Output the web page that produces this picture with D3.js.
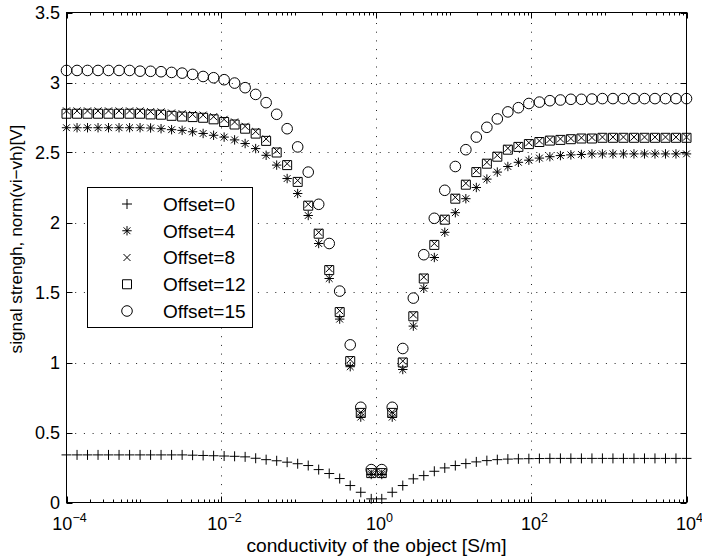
<!DOCTYPE html>
<html>
<head>
<meta charset="utf-8">
<script src="https://cdn.jsdelivr.net/npm/d3@7"></script>
<style>
  body { margin: 0; background: #fff; }
  text { font-family: "Liberation Sans", Arial, Helvetica, sans-serif; fill: #000; }
</style>
</head>
<body>
<svg id="canvas"></svg>
<script>
// exponent of the conductivity (60 samples, 10^-4 .. 10^4)
const logSigma = [
  -4.000, -3.864, -3.729, -3.593, -3.458, -3.322, -3.186, -3.051, -2.915, -2.780,
  -2.644, -2.508, -2.373, -2.237, -2.102, -1.966, -1.831, -1.695, -1.559, -1.424,
  -1.288, -1.153, -1.017, -0.881, -0.746, -0.610, -0.475, -0.339, -0.203, -0.068,
   0.068,  0.203,  0.339,  0.475,  0.610,  0.746,  0.881,  1.017,  1.153,  1.288,
   1.424,  1.559,  1.695,  1.831,  1.966,  2.102,  2.237,  2.373,  2.508,  2.644,
   2.780,  2.915,  3.051,  3.186,  3.322,  3.458,  3.593,  3.729,  3.864,  4.000
]

const offset0 = [
  0.340, 0.340, 0.340, 0.340, 0.340, 0.340, 0.340, 0.340, 0.340, 0.340,
  0.340, 0.340, 0.338, 0.336, 0.334, 0.332, 0.330, 0.326, 0.316, 0.306,
  0.298, 0.288, 0.277, 0.264, 0.235, 0.207, 0.171, 0.121, 0.073, 0.026,
  0.026, 0.073, 0.121, 0.169, 0.192, 0.223, 0.247, 0.264, 0.278, 0.290,
  0.299, 0.306, 0.310, 0.312, 0.313, 0.314, 0.315, 0.315, 0.315, 0.315,
  0.315, 0.315, 0.315, 0.315, 0.315, 0.315, 0.315, 0.315, 0.315, 0.315
]

const offset4 = [
  2.677, 2.677, 2.677, 2.677, 2.677, 2.677, 2.677, 2.677, 2.675, 2.670,
  2.663, 2.658, 2.648, 2.636, 2.623, 2.610, 2.590, 2.564, 2.528, 2.480,
  2.410, 2.314, 2.207, 2.050, 1.850, 1.600, 1.310, 0.970, 0.610, 0.200,
  0.200, 0.610, 0.950, 1.260, 1.530, 1.750, 1.930, 2.070, 2.170, 2.250,
  2.310, 2.360, 2.400, 2.430, 2.445, 2.460, 2.470, 2.478, 2.483, 2.486,
  2.490, 2.490, 2.490, 2.490, 2.490, 2.490, 2.490, 2.490, 2.490, 2.490
]

const offset8 = [
  2.797, 2.797, 2.797, 2.797, 2.797, 2.797, 2.797, 2.797, 2.792, 2.790,
  2.782, 2.777, 2.772, 2.767, 2.756, 2.737, 2.718, 2.687, 2.650, 2.597,
  2.513, 2.420, 2.300, 2.130, 1.930, 1.670, 1.370, 1.020, 0.645, 0.215,
  0.215, 0.645, 1.010, 1.340, 1.610, 1.850, 2.030, 2.180, 2.280, 2.370,
  2.430, 2.480, 2.530, 2.550, 2.570, 2.583, 2.592, 2.597, 2.600, 2.605,
  2.607, 2.610, 2.610, 2.610, 2.610, 2.610, 2.610, 2.610, 2.610, 2.610
]

const offset12 = [
  2.777, 2.777, 2.777, 2.777, 2.777, 2.777, 2.777, 2.777, 2.772, 2.770,
  2.762, 2.757, 2.753, 2.748, 2.737, 2.718, 2.700, 2.670, 2.635, 2.583,
  2.500, 2.410, 2.290, 2.120, 1.920, 1.660, 1.360, 1.010, 0.640, 0.210,
  0.210, 0.640, 1.000, 1.330, 1.600, 1.840, 2.020, 2.170, 2.270, 2.360,
  2.420, 2.470, 2.520, 2.540, 2.560, 2.575, 2.585, 2.590, 2.595, 2.600,
  2.600, 2.605, 2.605, 2.605, 2.605, 2.605, 2.605, 2.605, 2.605, 2.605
]

const offset15 = [
  3.086, 3.086, 3.086, 3.086, 3.086, 3.086, 3.086, 3.081, 3.080, 3.077,
  3.072, 3.067, 3.058, 3.043, 3.034, 3.020, 2.996, 2.963, 2.915, 2.856,
  2.773, 2.670, 2.540, 2.360, 2.130, 1.850, 1.510, 1.126, 0.680, 0.235,
  0.235, 0.680, 1.100, 1.460, 1.770, 2.030, 2.230, 2.400, 2.520, 2.610,
  2.680, 2.740, 2.790, 2.820, 2.850, 2.860, 2.870, 2.875, 2.880, 2.880,
  2.882, 2.885, 2.885, 2.885, 2.885, 2.885, 2.885, 2.885, 2.885, 2.885
]

const seriesNames = ['Offset=0', 'Offset=4', 'Offset=8', 'Offset=12', 'Offset=15']
const seriesValues = [offset0, offset4, offset8, offset12, offset15]
const markerTypes = ['plus', 'star', 'cross', 'square', 'circle']

const xTickExp = [-4, -2, 0, 2, 4]
const yTicks = [0, 0.5, 1, 1.5, 2, 2.5, 3, 3.5]

let width = 702,
height = 560

let pLeft = 66.5, pRight = 686.5, pTop = 12.5, pBottom = 502.5

let canvas = d3.select('#canvas')
.attr('width', width)
.attr('height', height)

let x = d3.scaleLog().domain([1e-4, 1e4]).range([pLeft, pRight])
let y = d3.scaleLinear().domain([0, 3.5]).range([pBottom, pTop])

// marker outlines, drawn with strokes like matlab does
let markerPath = (type) => {
    if (type === 'plus') return 'M-5,0H5M0,-5V5'
    if (type === 'cross') return 'M-3.5,-3.5L3.5,3.5M-3.5,3.5L3.5,-3.5'
    if (type === 'star') return 'M-4.7,0H4.7M0,-4.7V4.7M-3.4,-3.4L3.4,3.4M-3.4,3.4L3.4,-3.4'
    if (type === 'square') return 'M-4.5,-4.5H4.5V4.5H-4.5Z'
    return d3.symbol().type(d3.symbolCircle).size(Math.PI * 5.3 * 5.3)()
}

// grid
let grid = canvas.append('g')
.attr('stroke', '#222')
.attr('stroke-width', 1)
.attr('stroke-dasharray', '1,7.7')

grid.selectAll('.gx')
.data(xTickExp.slice(1, -1))
.enter().append('line')
.attr('x1', d => Math.round(x(Math.pow(10, d))) + 0.5)
.attr('x2', d => Math.round(x(Math.pow(10, d))) + 0.5)
.attr('y1', pBottom)
.attr('y2', pTop)

grid.selectAll('.gy')
.data(yTicks.slice(1, -1))
.enter().append('line')
.attr('y1', d => Math.round(y(d)) + 0.5)
.attr('y2', d => Math.round(y(d)) + 0.5)
.attr('x1', pLeft)
.attr('x2', pRight)

// box
canvas.append('rect')
.attr('x', pLeft).attr('y', pTop)
.attr('width', pRight - pLeft).attr('height', pBottom - pTop)
.attr('fill', 'none').attr('stroke', '#000')

// ticks on all four sides
let ticks = canvas.append('g').attr('stroke', '#000')
xTickExp.forEach(e => {
    let px = Math.round(x(Math.pow(10, e))) + 0.5
    ticks.append('line').attr('x1', px).attr('x2', px).attr('y1', pBottom).attr('y2', pBottom - 6)
    ticks.append('line').attr('x1', px).attr('x2', px).attr('y1', pTop).attr('y2', pTop + 6)
})
for (let e = -4; e < 4; e++) {
    for (let m = 2; m < 10; m++) {
        let px = Math.round(x(m * Math.pow(10, e))) + 0.5
        ticks.append('line').attr('x1', px).attr('x2', px).attr('y1', pBottom).attr('y2', pBottom - 3)
        ticks.append('line').attr('x1', px).attr('x2', px).attr('y1', pTop).attr('y2', pTop + 3)
    }
}
yTicks.forEach(v => {
    let py = Math.round(y(v)) + 0.5
    ticks.append('line').attr('x1', pLeft).attr('x2', pLeft + 6).attr('y1', py).attr('y2', py)
    ticks.append('line').attr('x1', pRight).attr('x2', pRight - 6).attr('y1', py).attr('y2', py)
})

// tick labels
canvas.selectAll('.ylab')
.data(yTicks)
.enter().append('text')
.attr('x', 60)
.attr('y', d => y(d))
.attr('dy', '0.36em')
.attr('text-anchor', 'end')
.attr('font-size', 18)
.text(d => d)

let xl = canvas.selectAll('.xlab')
.data(xTickExp)
.enter().append('text')
.attr('x', d => x(Math.pow(10, d)) + 3)
.attr('y', 530)
.attr('text-anchor', 'middle')
.attr('font-size', 18)
xl.append('tspan').text('10')
xl.append('tspan').attr('dy', -8).attr('font-size', 12.5).text(d => d < 0 ? '\u2212' + (-d) : '' + d)

// axis titles
canvas.append('text')
.attr('x', (pLeft + pRight) / 2)
.attr('y', 552)
.attr('text-anchor', 'middle')
.attr('font-size', 19.2)
.text('conductivity of the object [S/m]')

canvas.append('text')
.attr('transform', 'translate(22, 239) rotate(-90)')
.attr('text-anchor', 'middle')
.attr('font-size', 17.2)
.text('signal strengh, norm(vi\u2212vh)[V]')

// markers
seriesValues.forEach((vals, k) => {
    canvas.append('g')
    .selectAll('path')
    .data(vals)
    .enter().append('path')
    .attr('transform', (d, i) => `translate(${x(Math.pow(10, logSigma[i]))}, ${y(d)})`)
    .attr('d', markerPath(markerTypes[k]))
    .attr('fill', 'none')
    .attr('stroke', '#000')
    .attr('stroke-width', 1)
})

// legend
let legend = canvas.append('g')
legend.append('rect')
.attr('x', 87.5).attr('y', 187.5)
.attr('width', 165).attr('height', 140)
.attr('fill', '#fff').attr('stroke', '#000')

seriesNames.forEach((name, k) => {
    let ly = 204 + k * 26.75
    legend.append('path')
    .attr('transform', `translate(127, ${ly})`)
    .attr('d', markerPath(markerTypes[k]))
    .attr('fill', 'none')
    .attr('stroke', '#000')
    legend.append('text')
    .attr('x', 163)
    .attr('y', ly)
    .attr('dy', '0.36em')
    .attr('font-size', 19)
    .text(name)
})
</script>
</body>
</html>
